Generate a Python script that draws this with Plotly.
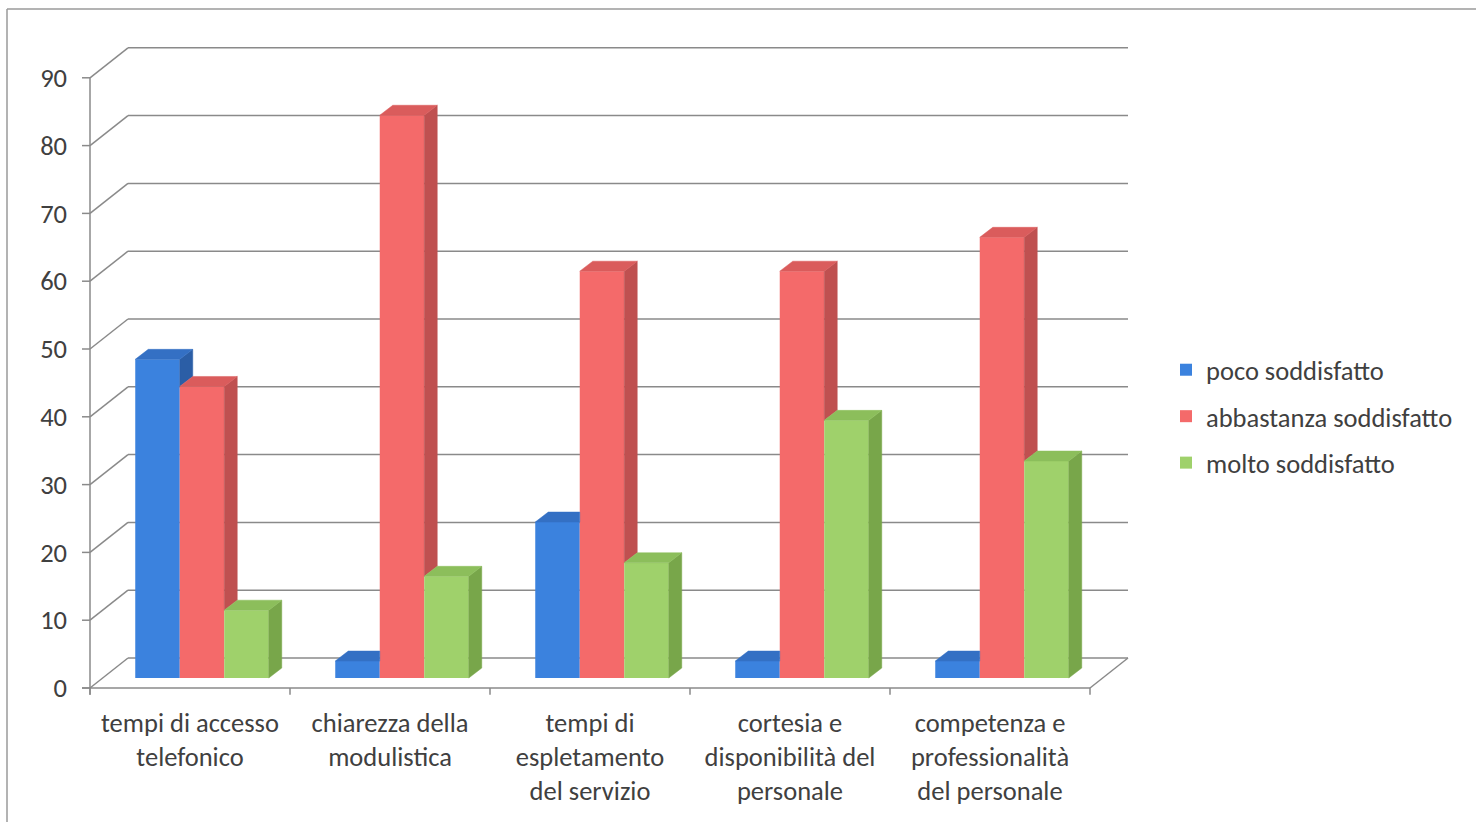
import plotly.graph_objects as go

# ---------------- data ----------------
categories = [
    "tempi di accesso<br>telefonico",
    "chiarezza della<br>modulistica",
    "tempi di<br>espletamento<br>del servizio",
    "cortesia e<br>disponibilità del<br>personale",
    "competenza e<br>professionalità<br>del personale",
]
series_names = ["poco soddisfatto", "abbastanza soddisfatto", "molto soddisfatto"]
poco = [47, 2.5, 23, 2.5, 2.5]
abbastanza = [43, 83, 60, 60, 65]
molto = [10, 15, 17, 38, 32]
y_ticks = [0, 10, 20, 30, 40, 50, 60, 70, 80, 90]

series_values = [poco, abbastanza, molto]
front_colors = ["#3B82DE", "#F46A6A", "#9FD16B"]
top_colors = ["#3470C4", "#DA5C5C", "#8CBE5B"]
side_colors = ["#2B5EA6", "#BF5050", "#78A64A"]

# ---------------- pseudo-3D geometry (data units) ----------------
BAR_W = 0.2225
DEPTH_X, DEPTH_Y = 0.065, 1.475      # bar depth
FRONT_X, FRONT_Y = -0.06, -1.475     # front edge of floor relative to bar plane
BACK_X, BACK_Y = 0.13, 2.95          # back wall relative to bar plane
GRID_COLOR = "#8A8A8A"
TXT = "#404040"
FONT = "Carlito, Lato, sans-serif"
FS = 26.5

n_cat = len(categories)
xs = list(range(n_cat))

fig = go.Figure()

# front faces (bars)
for s, (name, vals) in enumerate(zip(series_names, series_values)):
    fig.add_trace(go.Bar(
        x=xs, y=vals, name=name, width=BAR_W, offset=(s - 1.5) * BAR_W,
        marker=dict(color=front_colors[s], line=dict(width=0)),
        legendgroup=name, hoverinfo="skip",
    ))

# side and top faces
for s, vals in enumerate(series_values):
    nxt = series_values[s + 1] if s < 2 else None
    sx, sy, tx, ty = [], [], [], []
    for c in xs:
        v = vals[c]
        x0 = c + (s - 1.5) * BAR_W
        x1 = x0 + BAR_W
        n = nxt[c] if nxt is not None else 0
        # side face (clipped by the next bar in front of it)
        if nxt is None or v > n:
            lo = n if nxt is not None else 0
            sx += [x1, x1 + DEPTH_X, x1 + DEPTH_X, x1, x1, None]
            sy += [lo, lo + DEPTH_Y, v + DEPTH_Y, v, lo, None]
        # top face
        if nxt is not None and n > v:
            tx += [x0, x0 + DEPTH_X, x1, x1, x0, None]
        else:
            tx += [x0, x0 + DEPTH_X, x1 + DEPTH_X, x1, x0, None]
        ty += [v, v + DEPTH_Y, v + DEPTH_Y, v, v, None]
    fig.add_trace(go.Scatter(x=sx, y=sy, mode="lines", fill="toself",
                             fillcolor=side_colors[s], line=dict(color=side_colors[s], width=0.5),
                             showlegend=False, hoverinfo="skip"))
    fig.add_trace(go.Scatter(x=tx, y=ty, mode="lines", fill="toself",
                             fillcolor=top_colors[s], line=dict(color=top_colors[s], width=0.5),
                             showlegend=False, hoverinfo="skip"))

# ---------------- walls / gridlines ----------------
shapes = []
xl_front = -0.5 + FRONT_X
xl_back = -0.5 + BACK_X
xr_back = n_cat - 0.5 + BACK_X
xr_front = n_cat - 0.5 + FRONT_X
line = dict(color=GRID_COLOR, width=1.5)
for k in y_ticks:
    shapes.append(dict(type="line", xref="x", yref="y", layer="below", line=line,
                       x0=xl_front, y0=k + FRONT_Y, x1=xl_back, y1=k + BACK_Y))
    shapes.append(dict(type="line", xref="x", yref="y", layer="below", line=line,
                       x0=xl_back, y0=k + BACK_Y, x1=xr_back, y1=k + BACK_Y))
    shapes.append(dict(type="line", xref="x", yref="y", layer="below", line=line,
                       x0=xl_front - 0.04, y0=k + FRONT_Y, x1=xl_front, y1=k + FRONT_Y))
# front vertical axis
shapes.append(dict(type="line", xref="x", yref="y", layer="below", line=line,
                   x0=xl_front, y0=FRONT_Y - 1.0, x1=xl_front, y1=y_ticks[-1] + FRONT_Y))
# front floor edge and right floor edge
shapes.append(dict(type="line", xref="x", yref="y", layer="below", line=line,
                   x0=xl_front - 0.04, y0=FRONT_Y, x1=xr_front, y1=FRONT_Y))
shapes.append(dict(type="line", xref="x", yref="y", layer="below", line=line,
                   x0=xr_front, y0=FRONT_Y, x1=xr_back, y1=BACK_Y))
# category separator ticks
for i in range(n_cat + 1):
    xi = i - 0.5 + FRONT_X
    shapes.append(dict(type="line", xref="x", yref="y", layer="below", line=line,
                       x0=xi, y0=FRONT_Y, x1=xi, y1=FRONT_Y - 1.0))

# outer chart border (top and left)
L, R, T, B = 78, 1135, 40, 700
W, H = 1476, 822
def px(p):
    return (p - L) / (R - L)
def py(p):
    return (B - p) / (B - T)
border = dict(color="#9A9A9A", width=1.5)
shapes.append(dict(type="line", xref="paper", yref="paper", line=border,
                   x0=px(7), y0=py(9), x1=px(W + 5), y1=py(9)))
shapes.append(dict(type="line", xref="paper", yref="paper", line=border,
                   x0=px(7), y0=py(9), x1=px(7), y1=py(H + 5)))

fig.update_layout(
    width=W, height=H,
    margin=dict(l=L, r=W - R, t=T, b=H - B),
    paper_bgcolor="white", plot_bgcolor="white",
    barmode="overlay",
    shapes=shapes,
    font=dict(family=FONT, size=FS, color=TXT),
    showlegend=True,
    legend=dict(x=px(1166), y=py(346), xanchor="left", yanchor="top",
                font=dict(family=FONT, size=FS, color=TXT),
                traceorder="grouped", tracegroupgap=9,
                bgcolor="rgba(0,0,0,0)"),
    xaxis=dict(range=[(L - 202) / 200, (R - 202) / 200], showgrid=False, zeroline=False,
               showline=False, ticks="", tickvals=[x + FRONT_X for x in xs],
               ticktext=categories, tickfont=dict(family=FONT, size=FS, color=TXT),
               ticklabelstandoff=4),
    yaxis=dict(range=[(678 - B) / 6.78, (678 - T) / 6.78], showgrid=False, zeroline=False,
               showline=False, ticks="", tickvals=[k + FRONT_Y for k in y_ticks],
               ticktext=[str(k) for k in y_ticks],
               tickfont=dict(family=FONT, size=FS, color=TXT), ticklabelstandoff=10),
)

fig.write_html("out.html")
